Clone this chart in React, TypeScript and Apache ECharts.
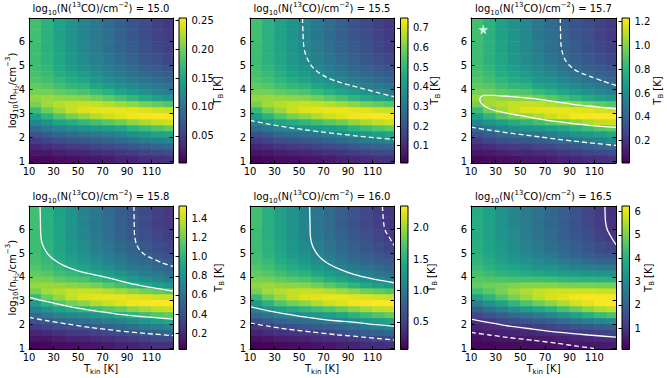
import React, { useEffect, useRef } from "react";
import * as echarts from "echarts";

// ---------------- data ----------------
// cell edges of the model grid
const tkinEdges = [10, 20, 30, 40, 50, 60, 70, 80, 90, 100, 110, 120, 130];
const logNEdges = [0.94, 1.25, 1.5, 1.75, 2, 2.25, 2.5, 2.75, 3, 3.25, 3.5, 3.75, 4, 4.25, 4.5, 4.75, 5, 5.5, 6, 6.5, 7];
const xTicks = [10, 30, 50, 70, 90, 110];
const yTicks = [1, 2, 3, 4, 5, 6];
const columnDensity = ["15.0", "15.5", "15.7", "15.8", "16.0", "16.5"];

// T_B [K]; rows from top (log n 6.5-7) to bottom (log n ~1), columns T_kin 10-20 ... 120-130
const tb150 = [
  [0.178, 0.163, 0.147, 0.132, 0.117, 0.104, 0.091, 0.079, 0.069, 0.060, 0.051, 0.044],
  [0.178, 0.163, 0.147, 0.132, 0.117, 0.104, 0.093, 0.080, 0.070, 0.061, 0.052, 0.046],
  [0.175, 0.163, 0.149, 0.133, 0.119, 0.107, 0.095, 0.084, 0.074, 0.065, 0.056, 0.050],
  [0.175, 0.164, 0.151, 0.137, 0.124, 0.112, 0.102, 0.090, 0.081, 0.072, 0.064, 0.056],
  [0.178, 0.168, 0.155, 0.142, 0.132, 0.119, 0.109, 0.099, 0.089, 0.081, 0.074, 0.066],
  [0.180, 0.173, 0.160, 0.150, 0.140, 0.127, 0.117, 0.107, 0.097, 0.089, 0.083, 0.076],
  [0.185, 0.178, 0.168, 0.157, 0.150, 0.137, 0.127, 0.117, 0.107, 0.099, 0.091, 0.085],
  [0.193, 0.188, 0.178, 0.170, 0.165, 0.152, 0.142, 0.132, 0.122, 0.112, 0.104, 0.097],
  [0.203, 0.201, 0.193, 0.188, 0.183, 0.173, 0.163, 0.152, 0.140, 0.130, 0.119, 0.112],
  [0.213, 0.216, 0.213, 0.211, 0.208, 0.201, 0.191, 0.180, 0.168, 0.155, 0.145, 0.137],
  [0.203, 0.218, 0.226, 0.231, 0.234, 0.231, 0.226, 0.218, 0.211, 0.201, 0.193, 0.185],
  [0.173, 0.198, 0.216, 0.231, 0.241, 0.244, 0.246, 0.246, 0.244, 0.241, 0.236, 0.234],
  [0.142, 0.165, 0.185, 0.201, 0.211, 0.224, 0.234, 0.241, 0.249, 0.251, 0.254, 0.254],
  [0.117, 0.132, 0.147, 0.157, 0.168, 0.178, 0.188, 0.198, 0.211, 0.221, 0.229, 0.234],
  [0.091, 0.104, 0.114, 0.122, 0.127, 0.135, 0.142, 0.152, 0.165, 0.175, 0.185, 0.193],
  [0.066, 0.076, 0.086, 0.091, 0.097, 0.102, 0.109, 0.117, 0.127, 0.137, 0.145, 0.152],
  [0.046, 0.053, 0.061, 0.066, 0.071, 0.076, 0.081, 0.089, 0.097, 0.107, 0.112, 0.119],
  [0.030, 0.036, 0.041, 0.046, 0.048, 0.053, 0.058, 0.064, 0.071, 0.079, 0.084, 0.089],
  [0.018, 0.020, 0.025, 0.028, 0.030, 0.036, 0.038, 0.043, 0.048, 0.053, 0.058, 0.061],
  [0.008, 0.010, 0.013, 0.015, 0.018, 0.020, 0.023, 0.028, 0.030, 0.036, 0.038, 0.041],
];
const tb155 = [
  [0.525, 0.480, 0.435, 0.390, 0.345, 0.308, 0.270, 0.233, 0.203, 0.176, 0.150, 0.131],
  [0.525, 0.480, 0.435, 0.390, 0.345, 0.308, 0.274, 0.236, 0.206, 0.180, 0.154, 0.135],
  [0.518, 0.480, 0.439, 0.394, 0.353, 0.315, 0.281, 0.248, 0.218, 0.191, 0.165, 0.146],
  [0.518, 0.484, 0.446, 0.405, 0.368, 0.330, 0.300, 0.266, 0.240, 0.214, 0.188, 0.165],
  [0.525, 0.495, 0.458, 0.420, 0.390, 0.353, 0.323, 0.293, 0.263, 0.240, 0.218, 0.195],
  [0.533, 0.510, 0.473, 0.443, 0.413, 0.375, 0.345, 0.315, 0.285, 0.263, 0.244, 0.225],
  [0.548, 0.525, 0.495, 0.465, 0.443, 0.405, 0.375, 0.345, 0.315, 0.293, 0.270, 0.251],
  [0.570, 0.555, 0.525, 0.503, 0.488, 0.450, 0.420, 0.390, 0.360, 0.330, 0.308, 0.285],
  [0.600, 0.593, 0.570, 0.555, 0.540, 0.510, 0.480, 0.450, 0.413, 0.383, 0.353, 0.330],
  [0.630, 0.638, 0.630, 0.623, 0.615, 0.593, 0.563, 0.533, 0.495, 0.458, 0.428, 0.405],
  [0.600, 0.645, 0.668, 0.683, 0.690, 0.683, 0.668, 0.645, 0.623, 0.593, 0.570, 0.548],
  [0.510, 0.585, 0.638, 0.683, 0.713, 0.720, 0.728, 0.728, 0.720, 0.713, 0.698, 0.690],
  [0.420, 0.488, 0.548, 0.593, 0.623, 0.660, 0.690, 0.713, 0.735, 0.743, 0.750, 0.750],
  [0.345, 0.390, 0.435, 0.465, 0.495, 0.525, 0.555, 0.585, 0.623, 0.653, 0.675, 0.690],
  [0.270, 0.308, 0.338, 0.360, 0.375, 0.398, 0.420, 0.450, 0.488, 0.518, 0.548, 0.570],
  [0.195, 0.225, 0.255, 0.270, 0.285, 0.300, 0.323, 0.345, 0.375, 0.405, 0.428, 0.450],
  [0.135, 0.158, 0.180, 0.195, 0.210, 0.225, 0.240, 0.263, 0.285, 0.315, 0.330, 0.353],
  [0.090, 0.105, 0.120, 0.135, 0.143, 0.158, 0.173, 0.188, 0.210, 0.233, 0.248, 0.263],
  [0.053, 0.060, 0.075, 0.083, 0.090, 0.105, 0.113, 0.128, 0.143, 0.158, 0.173, 0.180],
  [0.023, 0.030, 0.038, 0.045, 0.053, 0.060, 0.068, 0.083, 0.090, 0.105, 0.113, 0.120],
];
const tb157 = [
  [0.86, 0.79, 0.71, 0.64, 0.57, 0.50, 0.44, 0.38, 0.33, 0.29, 0.25, 0.22],
  [0.86, 0.79, 0.71, 0.64, 0.57, 0.50, 0.45, 0.39, 0.34, 0.30, 0.25, 0.22],
  [0.85, 0.79, 0.72, 0.65, 0.58, 0.52, 0.46, 0.41, 0.36, 0.31, 0.27, 0.24],
  [0.85, 0.79, 0.73, 0.66, 0.60, 0.54, 0.49, 0.44, 0.39, 0.35, 0.31, 0.27],
  [0.86, 0.81, 0.75, 0.69, 0.64, 0.58, 0.53, 0.48, 0.43, 0.39, 0.36, 0.32],
  [0.87, 0.84, 0.77, 0.73, 0.68, 0.62, 0.57, 0.52, 0.47, 0.43, 0.40, 0.37],
  [0.90, 0.86, 0.81, 0.76, 0.73, 0.66, 0.62, 0.57, 0.52, 0.48, 0.44, 0.41],
  [0.93, 0.91, 0.86, 0.82, 0.80, 0.74, 0.69, 0.64, 0.59, 0.54, 0.50, 0.47],
  [0.98, 0.97, 0.93, 0.91, 0.89, 0.84, 0.79, 0.74, 0.68, 0.63, 0.58, 0.54],
  [1.03, 1.05, 1.03, 1.02, 1.01, 0.97, 0.92, 0.87, 0.81, 0.75, 0.70, 0.66],
  [0.98, 1.06, 1.09, 1.12, 1.13, 1.12, 1.09, 1.06, 1.02, 0.97, 0.93, 0.90],
  [0.84, 0.96, 1.05, 1.12, 1.17, 1.18, 1.19, 1.19, 1.18, 1.17, 1.14, 1.13],
  [0.69, 0.80, 0.90, 0.97, 1.02, 1.08, 1.13, 1.17, 1.21, 1.22, 1.23, 1.23],
  [0.57, 0.64, 0.71, 0.76, 0.81, 0.86, 0.91, 0.96, 1.02, 1.07, 1.11, 1.13],
  [0.44, 0.50, 0.55, 0.59, 0.62, 0.65, 0.69, 0.74, 0.80, 0.85, 0.90, 0.93],
  [0.32, 0.37, 0.42, 0.44, 0.47, 0.49, 0.53, 0.57, 0.62, 0.66, 0.70, 0.74],
  [0.22, 0.26, 0.30, 0.32, 0.34, 0.37, 0.39, 0.43, 0.47, 0.52, 0.54, 0.58],
  [0.15, 0.17, 0.20, 0.22, 0.23, 0.26, 0.28, 0.31, 0.34, 0.38, 0.41, 0.43],
  [0.09, 0.10, 0.12, 0.14, 0.15, 0.17, 0.18, 0.21, 0.23, 0.26, 0.28, 0.30],
  [0.04, 0.05, 0.06, 0.07, 0.09, 0.10, 0.11, 0.14, 0.15, 0.17, 0.18, 0.20],
];
const tb158 = [
  [1.07, 0.98, 0.89, 0.80, 0.70, 0.63, 0.55, 0.47, 0.41, 0.36, 0.31, 0.27],
  [1.07, 0.98, 0.89, 0.80, 0.70, 0.63, 0.56, 0.48, 0.42, 0.37, 0.31, 0.28],
  [1.06, 0.98, 0.90, 0.80, 0.72, 0.64, 0.57, 0.50, 0.44, 0.39, 0.34, 0.30],
  [1.06, 0.99, 0.91, 0.83, 0.75, 0.67, 0.61, 0.54, 0.49, 0.44, 0.38, 0.34],
  [1.07, 1.01, 0.93, 0.86, 0.80, 0.72, 0.66, 0.60, 0.54, 0.49, 0.44, 0.40],
  [1.09, 1.04, 0.96, 0.90, 0.84, 0.77, 0.70, 0.64, 0.58, 0.54, 0.50, 0.46],
  [1.12, 1.07, 1.01, 0.95, 0.90, 0.83, 0.77, 0.70, 0.64, 0.60, 0.55, 0.51],
  [1.16, 1.13, 1.07, 1.03, 0.99, 0.92, 0.86, 0.80, 0.73, 0.67, 0.63, 0.58],
  [1.22, 1.21, 1.16, 1.13, 1.10, 1.04, 0.98, 0.92, 0.84, 0.78, 0.72, 0.67],
  [1.29, 1.30, 1.29, 1.27, 1.25, 1.21, 1.15, 1.09, 1.01, 0.93, 0.87, 0.83],
  [1.22, 1.32, 1.36, 1.39, 1.41, 1.39, 1.36, 1.32, 1.27, 1.21, 1.16, 1.12],
  [1.04, 1.19, 1.30, 1.39, 1.45, 1.47, 1.48, 1.48, 1.47, 1.45, 1.42, 1.41],
  [0.86, 0.99, 1.12, 1.21, 1.27, 1.35, 1.41, 1.45, 1.50, 1.51, 1.53, 1.53],
  [0.70, 0.80, 0.89, 0.95, 1.01, 1.07, 1.13, 1.19, 1.27, 1.33, 1.38, 1.41],
  [0.55, 0.63, 0.69, 0.73, 0.77, 0.81, 0.86, 0.92, 0.99, 1.06, 1.12, 1.16],
  [0.40, 0.46, 0.52, 0.55, 0.58, 0.61, 0.66, 0.70, 0.77, 0.83, 0.87, 0.92],
  [0.28, 0.32, 0.37, 0.40, 0.43, 0.46, 0.49, 0.54, 0.58, 0.64, 0.67, 0.72],
  [0.18, 0.21, 0.24, 0.28, 0.29, 0.32, 0.35, 0.38, 0.43, 0.47, 0.50, 0.54],
  [0.11, 0.12, 0.15, 0.17, 0.18, 0.21, 0.23, 0.26, 0.29, 0.32, 0.35, 0.37],
  [0.05, 0.06, 0.08, 0.09, 0.11, 0.12, 0.14, 0.17, 0.18, 0.21, 0.23, 0.24],
];
const tb160 = [
  [1.65, 1.50, 1.36, 1.22, 1.08, 0.96, 0.85, 0.73, 0.63, 0.55, 0.47, 0.41],
  [1.65, 1.50, 1.36, 1.22, 1.08, 0.96, 0.86, 0.74, 0.65, 0.56, 0.48, 0.42],
  [1.62, 1.50, 1.37, 1.23, 1.10, 0.99, 0.88, 0.78, 0.68, 0.60, 0.52, 0.46],
  [1.62, 1.52, 1.40, 1.27, 1.15, 1.03, 0.94, 0.83, 0.75, 0.67, 0.59, 0.52],
  [1.65, 1.55, 1.43, 1.32, 1.22, 1.10, 1.01, 0.92, 0.82, 0.75, 0.68, 0.61],
  [1.67, 1.60, 1.48, 1.39, 1.29, 1.18, 1.08, 0.99, 0.89, 0.82, 0.76, 0.71],
  [1.72, 1.65, 1.55, 1.46, 1.39, 1.27, 1.18, 1.08, 0.99, 0.92, 0.85, 0.79],
  [1.79, 1.74, 1.65, 1.57, 1.53, 1.41, 1.32, 1.22, 1.13, 1.03, 0.96, 0.89],
  [1.88, 1.86, 1.79, 1.74, 1.69, 1.60, 1.50, 1.41, 1.29, 1.20, 1.10, 1.03],
  [1.97, 2.00, 1.97, 1.95, 1.93, 1.86, 1.76, 1.67, 1.55, 1.43, 1.34, 1.27],
  [1.88, 2.02, 2.09, 2.14, 2.16, 2.14, 2.09, 2.02, 1.95, 1.86, 1.79, 1.72],
  [1.60, 1.83, 2.00, 2.14, 2.23, 2.26, 2.28, 2.28, 2.26, 2.23, 2.19, 2.16],
  [1.32, 1.53, 1.72, 1.86, 1.95, 2.07, 2.16, 2.23, 2.30, 2.33, 2.35, 2.35],
  [1.08, 1.22, 1.36, 1.46, 1.55, 1.65, 1.74, 1.83, 1.95, 2.04, 2.12, 2.16],
  [0.85, 0.96, 1.06, 1.13, 1.18, 1.25, 1.32, 1.41, 1.53, 1.62, 1.72, 1.79],
  [0.61, 0.71, 0.80, 0.85, 0.89, 0.94, 1.01, 1.08, 1.18, 1.27, 1.34, 1.41],
  [0.42, 0.49, 0.56, 0.61, 0.66, 0.71, 0.75, 0.82, 0.89, 0.99, 1.03, 1.10],
  [0.28, 0.33, 0.38, 0.42, 0.45, 0.49, 0.54, 0.59, 0.66, 0.73, 0.78, 0.82],
  [0.16, 0.19, 0.24, 0.26, 0.28, 0.33, 0.35, 0.40, 0.45, 0.49, 0.54, 0.56],
  [0.07, 0.09, 0.12, 0.14, 0.16, 0.19, 0.21, 0.26, 0.28, 0.33, 0.35, 0.38],
];
const tb165 = [
  [3.87, 3.56, 3.24, 2.93, 2.62, 2.37, 2.12, 1.87, 1.62, 1.37, 1.12, 0.94],
  [3.87, 3.56, 3.24, 2.93, 2.62, 2.37, 2.12, 1.87, 1.65, 1.40, 1.15, 0.97],
  [3.87, 3.59, 3.28, 3.00, 2.68, 2.43, 2.18, 1.93, 1.72, 1.50, 1.25, 1.06],
  [3.93, 3.65, 3.37, 3.09, 2.81, 2.56, 2.31, 2.09, 1.87, 1.68, 1.47, 1.31],
  [3.99, 3.74, 3.46, 3.24, 3.00, 2.75, 2.56, 2.31, 2.12, 1.93, 1.75, 1.68],
  [4.12, 3.87, 3.62, 3.40, 3.18, 3.00, 2.81, 2.62, 2.43, 2.25, 2.12, 2.06],
  [4.24, 4.02, 3.81, 3.65, 3.49, 3.31, 3.18, 3.00, 2.81, 2.68, 2.62, 2.56],
  [4.43, 4.24, 4.06, 3.96, 3.87, 3.74, 3.62, 3.49, 3.37, 3.24, 3.18, 3.18],
  [4.62, 4.56, 4.49, 4.43, 4.43, 4.37, 4.31, 4.18, 4.12, 4.06, 3.99, 3.99],
  [4.74, 4.87, 4.93, 5.05, 5.12, 5.12, 5.12, 5.05, 4.99, 4.99, 4.93, 4.93],
  [4.37, 4.68, 4.99, 5.30, 5.49, 5.68, 5.80, 5.80, 5.80, 5.80, 5.74, 5.74],
  [3.62, 4.06, 4.56, 4.99, 5.30, 5.62, 5.87, 5.99, 6.12, 6.18, 6.18, 6.18],
  [2.75, 3.18, 3.68, 4.12, 4.49, 4.87, 5.18, 5.49, 5.80, 5.99, 6.18, 6.24],
  [2.00, 2.37, 2.75, 3.12, 3.43, 3.74, 4.06, 4.43, 4.80, 5.18, 5.49, 5.68],
  [1.37, 1.68, 1.93, 2.18, 2.37, 2.62, 2.93, 3.24, 3.56, 3.93, 4.24, 4.49],
  [0.94, 1.12, 1.31, 1.50, 1.62, 1.81, 2.00, 2.25, 2.50, 2.75, 2.93, 3.12],
  [0.69, 0.81, 0.87, 1.00, 1.06, 1.19, 1.31, 1.44, 1.62, 1.75, 1.87, 2.00],
  [0.50, 0.56, 0.62, 0.69, 0.75, 0.81, 0.87, 0.97, 1.06, 1.15, 1.25, 1.31],
  [0.31, 0.37, 0.44, 0.47, 0.50, 0.53, 0.56, 0.62, 0.69, 0.75, 0.81, 0.87],
  [0.19, 0.22, 0.25, 0.28, 0.31, 0.34, 0.37, 0.41, 0.44, 0.47, 0.50, 0.56],
];
const tbPanels = [tb150, tb155, tb157, tb158, tb160, tb165];

// colour-bar ranges and ticks
const cbarMin = [0.003, 0.012, 0.013, 0.03, 0.06, 0.08];
const cbarMax = [0.254, 0.75, 1.23, 1.53, 2.35, 6.24];
const cbarTicks = [
  [0.05, 0.1, 0.15, 0.2, 0.25],
  [0.1, 0.2, 0.3, 0.4, 0.5, 0.6, 0.7],
  [0.2, 0.4, 0.6, 0.8, 1.0, 1.2],
  [0.2, 0.4, 0.6, 0.8, 1.0, 1.2, 1.4],
  [0.5, 1.0, 1.5, 2.0],
  [1, 2, 3, 4, 5, 6],
];
const cbarDecimals = [2, 1, 1, 1, 1, 0];

// contour lines [T_kin, log n]
const solidContours = [
  [],
  [],
  [[[127.5, 3.2], [110, 3.29], [93.7, 3.37], [80, 3.48], [66.5, 3.58], [52, 3.66], [39.2, 3.72], [28, 3.76], [21, 3.76],
    [18, 3.7], [17.2, 3.58], [18, 3.45], [20.5, 3.33], [25, 3.2], [31, 3.1], [42, 2.99], [52.8, 2.89], [66, 2.77],
    [80.1, 2.66], [93, 2.58], [107.4, 2.5], [127.5, 2.43]]],
  [
    [[19, 6.98], [19.3, 6.4], [19.6, 5.76], [20.5, 5.45], [22.3, 5.21], [25.5, 4.95], [30.5, 4.72], [38, 4.48], [46.9, 4.3],
      [57, 4.15], [68.8, 4.03], [82, 3.86], [96.1, 3.68], [112, 3.53], [127.5, 3.4]],
    [[10, 3.13], [18, 3.03], [27.8, 2.92], [41, 2.77], [55.1, 2.64], [68, 2.53], [82.4, 2.43], [105, 2.31], [127.5, 2.22]],
  ],
  [
    [[58.6, 6.98], [58.9, 6.4], [59.2, 5.76], [60.5, 5.38], [63.3, 5.07], [67.5, 4.8], [72.9, 4.58], [83, 4.32], [94.7, 4.1],
      [110, 3.91], [127.5, 3.75]],
    [[10, 2.74], [25, 2.57], [40.1, 2.43], [53, 2.32], [67.4, 2.22], [80, 2.15], [94.7, 2.09], [110, 2.0], [127.5, 1.92]],
  ],
  [
    [[118.5, 6.98], [118.7, 6.6], [119, 6.32], [120.3, 6.0], [122.6, 5.76], [125, 5.55], [127.5, 5.35]],
    [[10, 2.22], [25, 2.07], [39.3, 1.94], [60, 1.8], [80.2, 1.67], [105, 1.55], [127.5, 1.46]],
  ],
];
const dashedContours = [
  [],
  [
    [[52.8, 6.98], [53.2, 6.4], [53.6, 5.94], [54.6, 5.6], [56.4, 5.32], [60, 5.0], [64.6, 4.76], [72, 4.52], [80.9, 4.34],
      [92, 4.17], [102.7, 4.03], [115, 3.86], [127.5, 3.7]],
    [[10, 2.72], [25, 2.56], [40, 2.43], [54, 2.33], [67.3, 2.24], [81, 2.16], [94.5, 2.08], [111, 2.0], [127.5, 1.92]],
  ],
  [
    [[82.3, 6.98], [82.5, 6.4], [82.8, 5.94], [84, 5.55], [86.1, 5.25], [89.5, 5.02], [93.7, 4.83], [100, 4.67],
      [107.4, 4.53], [117, 4.35], [127.5, 4.17]],
    [[10, 2.43], [25, 2.31], [39.2, 2.2], [53, 2.11], [66.5, 2.02], [80, 1.93], [93.7, 1.85], [110, 1.76], [127.5, 1.67]],
  ],
  [
    [[95.6, 6.98], [95.8, 6.4], [96.1, 5.76], [97.5, 5.4], [100.2, 5.13], [104.5, 4.93], [109.8, 4.79], [118, 4.6], [127.5, 4.44]],
    [[10, 2.29], [25, 2.15], [41.4, 2.01], [60, 1.87], [82.4, 1.73], [105, 1.62], [127.5, 1.52]],
  ],
  [
    [[118, 6.98], [118.5, 6.6], [119.3, 6.18], [120.8, 5.9], [123.4, 5.69], [127.5, 5.32]],
    [[10, 2.05], [25, 1.92], [40.1, 1.8], [60, 1.68], [81, 1.56], [105, 1.45], [127.5, 1.34]],
  ],
  [[[10, 1.66], [25, 1.55], [39.3, 1.45], [60, 1.33], [80.2, 1.2], [96, 1.08], [112, 0.97]]],
];
const starPoint = [20, 6.5]; // marked in the log N = 15.7 panel

// ---------------- styling / layout ----------------
const FONT = "DejaVu Sans";
const VIRIDIS = [
  "#440154", "#471365", "#482475", "#463480", "#414487", "#3b528b", "#355f8d",
  "#2f6c8e", "#2a788e", "#25848e", "#21918c", "#1e9c89", "#22a884", "#2fb47c",
  "#44bf70", "#5ec962", "#7ad151", "#9bd93c", "#bddf26", "#dfe318", "#fde725",
];
const VIR_RGB = VIRIDIS.map((h) => [
  parseInt(h.slice(1, 3), 16),
  parseInt(h.slice(3, 5), 16),
  parseInt(h.slice(5, 7), 16),
]);
function viridis(t: number): string {
  const tt = Math.max(0, Math.min(1, t)) * (VIR_RGB.length - 1);
  const i = Math.min(VIR_RGB.length - 2, Math.floor(tt));
  const f = tt - i;
  const a = VIR_RGB[i], b = VIR_RGB[i + 1];
  const c = [0, 1, 2].map((k) => Math.round(a[k] + (b[k] - a[k]) * f));
  return `rgb(${c[0]},${c[1]},${c[2]})`;
}

const layout = [
  { l: 29, t: 18, w: 144, h: 145, cb: 179, tbx: 217 },
  { l: 250, t: 18, w: 144, h: 145, cb: 400.5, tbx: 434 },
  { l: 471, t: 18, w: 145, h: 145, cb: 622, tbx: 657 },
  { l: 29, t: 206, w: 144, h: 143.5, cb: 179, tbx: 218 },
  { l: 250, t: 206, w: 144, h: 143.5, cb: 400.5, tbx: 431 },
  { l: 471, t: 206, w: 145, h: 143.5, cb: 622, tbx: 648 },
];
const CB_W = 7.5;
const X_MIN = 10, X_MAX = 127.5, Y_MIN = 0.94, Y_MAX = 6.98;

const rich = {
  n: { fontSize: 10, fontFamily: FONT, lineHeight: 15, fill: "#000" },
  s: { fontSize: 7, fontFamily: FONT, lineHeight: 7, verticalAlign: "bottom", fill: "#000" },
  ss: { fontSize: 5, fontFamily: FONT, lineHeight: 4, verticalAlign: "bottom", fill: "#000" },
  p: { fontSize: 7, fontFamily: FONT, lineHeight: 7, verticalAlign: "top", fill: "#000" },
};

function textEl(text: string, x: number, y: number, rotation = 0) {
  return {
    type: "text",
    x,
    y,
    rotation,
    silent: true,
    style: { text, rich, align: "center", verticalAlign: "middle", fill: "#000", fontSize: 10, fontFamily: FONT },
  };
}

function buildOption() {
  const grid: any[] = [];
  const xAxis: any[] = [];
  const yAxis: any[] = [];
  const series: any[] = [];
  const graphic: any[] = [];

  const tick = { show: true, inside: true, length: 3.5, lineStyle: { color: "#000", width: 1 } };
  const line = { show: true, onZero: false, lineStyle: { color: "#000", width: 1 } };
  const lbl = { fontSize: 10, fontFamily: FONT, color: "#000" };

  tbPanels.forEach((tb, i) => {
    const L = layout[i];
    const vmin = cbarMin[i], vmax = cbarMax[i];
    grid.push({ left: L.l, top: L.t, width: L.w, height: L.h });
    grid.push({ left: L.cb, top: L.t, width: CB_W, height: L.h });
    const g = 2 * i;
    const ax = 3 * i;

    xAxis.push({
      type: "value", gridIndex: g, min: X_MIN, max: X_MAX, position: "bottom", z: 10,
      axisLine: line, axisTick: { ...tick, customValues: xTicks },
      axisLabel: { ...lbl, margin: 3, customValues: xTicks }, splitLine: { show: false },
    });
    xAxis.push({
      type: "value", gridIndex: g, min: X_MIN, max: X_MAX, position: "top", z: 10,
      axisLine: line, axisTick: { ...tick, customValues: xTicks },
      axisLabel: { show: false, customValues: xTicks }, splitLine: { show: false },
    });
    xAxis.push({ type: "value", gridIndex: g + 1, min: 0, max: 1, show: false });

    yAxis.push({
      type: "value", gridIndex: g, min: Y_MIN, max: Y_MAX, position: "left", z: 10,
      axisLine: line, axisTick: { ...tick, customValues: yTicks },
      axisLabel: { ...lbl, margin: 4, customValues: yTicks }, splitLine: { show: false },
    });
    yAxis.push({
      type: "value", gridIndex: g, min: Y_MIN, max: Y_MAX, position: "right", z: 10,
      axisLine: line, axisTick: { ...tick, customValues: yTicks },
      axisLabel: { show: false, customValues: yTicks }, splitLine: { show: false },
    });
    const dec = cbarDecimals[i];
    yAxis.push({
      type: "value", gridIndex: g + 1, min: vmin, max: vmax, position: "right", z: 10,
      axisLine: { show: false },
      axisTick: { ...tick, customValues: cbarTicks[i] },
      axisLabel: { ...lbl, margin: 5, customValues: cbarTicks[i], formatter: (v: number) => v.toFixed(dec) },
      splitLine: { show: false },
    });

    // heat map cells
    const cells: number[][] = [];
    const nRows = tb.length;
    tb.forEach((row, r) => {
      const k = nRows - 1 - r;
      row.forEach((v, c) => {
        cells.push([tkinEdges[c], tkinEdges[c + 1], logNEdges[k], logNEdges[k + 1], v]);
      });
    });
    series.push({
      type: "custom", xAxisIndex: ax, yAxisIndex: ax, z: 1, silent: true,
      encode: { x: [0, 1], y: [2, 3] },
      data: cells,
      renderItem: (params: any, api: any) => {
        const a = api.coord([api.value(0), api.value(3)]);
        const b = api.coord([api.value(1), api.value(2)]);
        const cs = params.coordSys;
        const shape = echarts.graphic.clipRectByRect(
          { x: a[0] - 0.3, y: a[1] - 0.3, width: b[0] - a[0] + 0.6, height: b[1] - a[1] + 0.6 },
          { x: cs.x, y: cs.y, width: cs.width, height: cs.height }
        );
        if (!shape) return null;
        const t = (api.value(4) - vmin) / (vmax - vmin);
        return { type: "rect", shape, style: { fill: viridis(t) } };
      },
    });

    // contours
    const addContour = (pts: number[][], dashed: boolean) => {
      series.push({
        type: "line", xAxisIndex: ax, yAxisIndex: ax, z: 3, silent: true,
        data: pts, symbol: "none", showSymbol: false, smooth: 0.25,
        lineStyle: { color: "#fff", width: 1.3, type: dashed ? [5, 3] : "solid" },
      });
    };
    solidContours[i].forEach((pts) => addContour(pts, false));
    dashedContours[i].forEach((pts) => addContour(pts, true));
    if (i === 2) {
      series.push({
        type: "scatter", xAxisIndex: ax, yAxisIndex: ax, z: 4, silent: true,
        data: [starPoint],
        symbol: "path://M50,0 L61.8,35.4 L100,35.4 L69.1,57.3 L80.9,92.7 L50,70.8 L19.1,92.7 L30.9,57.3 L0,35.4 L38.2,35.4 Z",
        symbolSize: 10,
        itemStyle: { color: "#fff" },
      });
    }

    // colour bar
    const stops = VIRIDIS.map((c, j) => ({ offset: j / (VIRIDIS.length - 1), color: c }));
    series.push({
      type: "custom", xAxisIndex: ax + 2, yAxisIndex: ax + 2, z: 1, silent: true,
      encode: { x: [0, 1], y: [2, 3] },
      data: [[0, 1, vmin, vmax]],
      renderItem: (params: any, api: any) => {
        const a = api.coord([api.value(0), api.value(3)]);
        const b = api.coord([api.value(1), api.value(2)]);
        return {
          type: "rect",
          shape: { x: a[0], y: a[1], width: b[0] - a[0], height: b[1] - a[1] },
          style: { fill: new echarts.graphic.LinearGradient(0, 1, 0, 0, stops), stroke: "#000", lineWidth: 1 },
        };
      },
    });

    // texts
    const cx = L.l + L.w / 2;
    const cy = L.t + L.h / 2;
    const titleY = i < 3 ? 8.5 : 196.5;
    graphic.push(textEl(`{n|log}{s|10}{n|(N(}{p|13}{n|CO)/cm}{p|−2}{n|) = ${columnDensity[i]}}`, cx, titleY));
    graphic.push(textEl("{n|T}{s|B}{n| [K]}", L.tbx, cy, Math.PI / 2));
    if (i === 0 || i === 3) {
      graphic.push(textEl("{n|log}{s|10}{n|(n}{s|H}{ss|2}{n|/cm}{p|−3}{n|)}", 12, cy, Math.PI / 2));
    }
    if (i >= 3) {
      graphic.push(textEl("{n|T}{s|kin}{n| [K]}", cx, 368));
    }
  });

  return {
    animation: false,
    backgroundColor: "#ffffff",
    textStyle: { fontFamily: FONT },
    grid,
    xAxis,
    yAxis,
    series,
    graphic,
  };
}

export default function App() {
  const ref = useRef<HTMLDivElement>(null);
  useEffect(() => {
    document.body.style.margin = "0";
    const chart = echarts.init(ref.current as HTMLDivElement, null, { renderer: "svg" });
    chart.setOption(buildOption() as any);
    return () => chart.dispose();
  }, []);
  return <div ref={ref} style={{ width: 667, height: 378 }} />;
}
